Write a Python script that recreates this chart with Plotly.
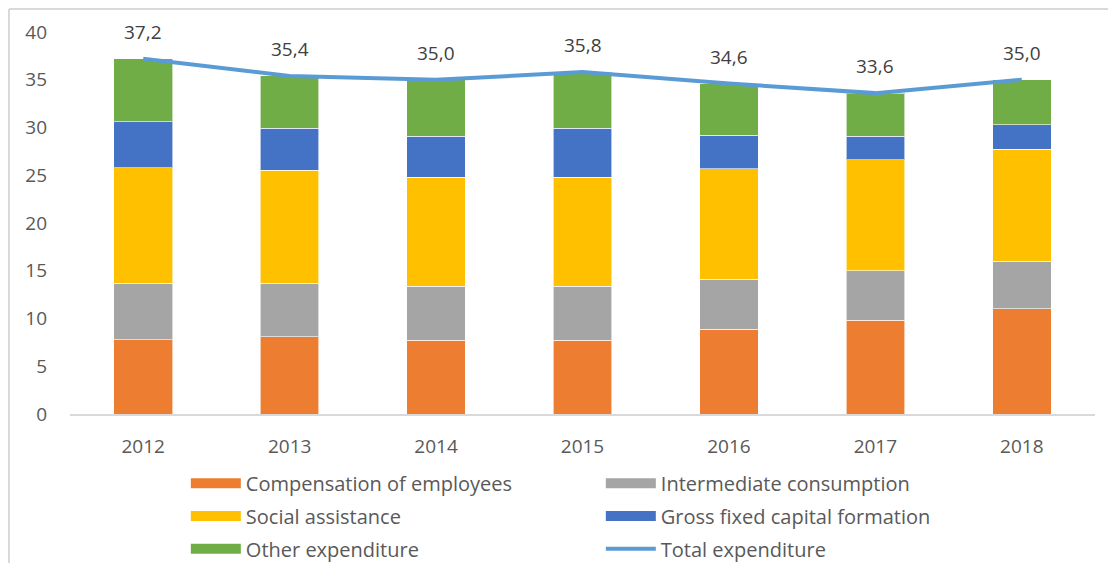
import plotly.graph_objects as go

years = ["2012", "2013", "2014", "2015", "2016", "2017", "2018"]
compensation = [7.8, 8.1, 7.7, 7.7, 8.9, 9.8, 11.0]
intermediate = [5.9, 5.6, 5.7, 5.7, 5.2, 5.2, 5.0]
social = [12.1, 11.8, 11.4, 11.4, 11.6, 11.6, 11.7]
gfcf = [4.8, 4.4, 4.3, 5.1, 3.5, 2.5, 2.6]
other = [6.6, 5.5, 5.9, 5.9, 5.4, 4.5, 4.7]
total = [37.2, 35.4, 35.0, 35.8, 34.6, 33.6, 35.0]

FONT = "Open Sans"
TXT = "#595959"

# name, values, colour, legend row
series = [
    ("Compensation of employees", compensation, "#ED7D31", "legend"),
    ("Intermediate consumption", intermediate, "#A5A5A5", "legend"),
    ("Social assistance", social, "#FFC000", "legend2"),
    ("Gross fixed capital formation", gfcf, "#4472C4", "legend2"),
    ("Other expenditure", other, "#70AD47", "legend3"),
]

fig = go.Figure()

for name, vals, color, leg in series:
    fig.add_trace(go.Bar(
        x=years, y=vals, name=name, legendgroup=name, showlegend=False,
        marker=dict(color=color, line=dict(color="rgba(255,255,255,0.6)", width=1)),
    ))
    # legend proxy with a wide swatch
    fig.add_trace(go.Scatter(
        x=[years[0]], y=[None], mode="lines", name=name, legendgroup=name,
        legend=leg, line=dict(color=color, width=13), hoverinfo="skip",
    ))

fig.add_trace(go.Scatter(
    x=years, y=total, mode="lines", name="Total expenditure", legend="legend3",
    line=dict(color="#5B9BD5", width=4),
))

# value labels above the total line (category index positions)
for i, v in enumerate(total):
    fig.add_annotation(
        x=i, y=v, text=f"{v:.1f}".replace(".", ","), showarrow=False,
        yshift=27, font=dict(family=FONT, size=19, color="#404040"),
    )

leg_style = dict(orientation="h", x=0.113, xanchor="left", yanchor="middle",
                 entrywidth=350, entrywidthmode="pixels", traceorder="normal",
                 font=dict(size=20, color=TXT), itemwidth=50, bgcolor="rgba(0,0,0,0)")

# the page adds an 8px body margin; the figure is sized/offset for it
fig.update_layout(
    width=1108, height=600,
    barmode="stack", bargap=0.6,
    plot_bgcolor="white", paper_bgcolor="white",
    margin=dict(l=62, r=21, t=24, b=194),
    font=dict(family=FONT, size=19, color=TXT),
    xaxis=dict(type="category", range=[-0.5, 6.5], showgrid=False, showline=True,
               linecolor="#D9D9D9", linewidth=2, ticks="", ticklabelstandoff=14,
               tickfont=dict(size=19, color=TXT)),
    yaxis=dict(range=[0, 40], dtick=5, showgrid=False, zeroline=False,
               ticks="", ticklabelstandoff=22, tickfont=dict(size=19, color=TXT)),
    legend=dict(leg_style, y=-0.181),
    legend2=dict(leg_style, y=-0.267),
    legend3=dict(leg_style, y=-0.353),
    # chart-area frame (left and top edges)
    shapes=[
        dict(type="line", xref="paper", yref="paper", x0=-0.0595, x1=-0.0595,
             y0=1.06, y1=-0.6, line=dict(color="#D9D9D9", width=2)),
        dict(type="line", xref="paper", yref="paper", x0=-0.0595, x1=1.03,
             y0=1.06, y1=1.06, line=dict(color="#D9D9D9", width=2)),
    ],
)

fig.write_html("out.html")
